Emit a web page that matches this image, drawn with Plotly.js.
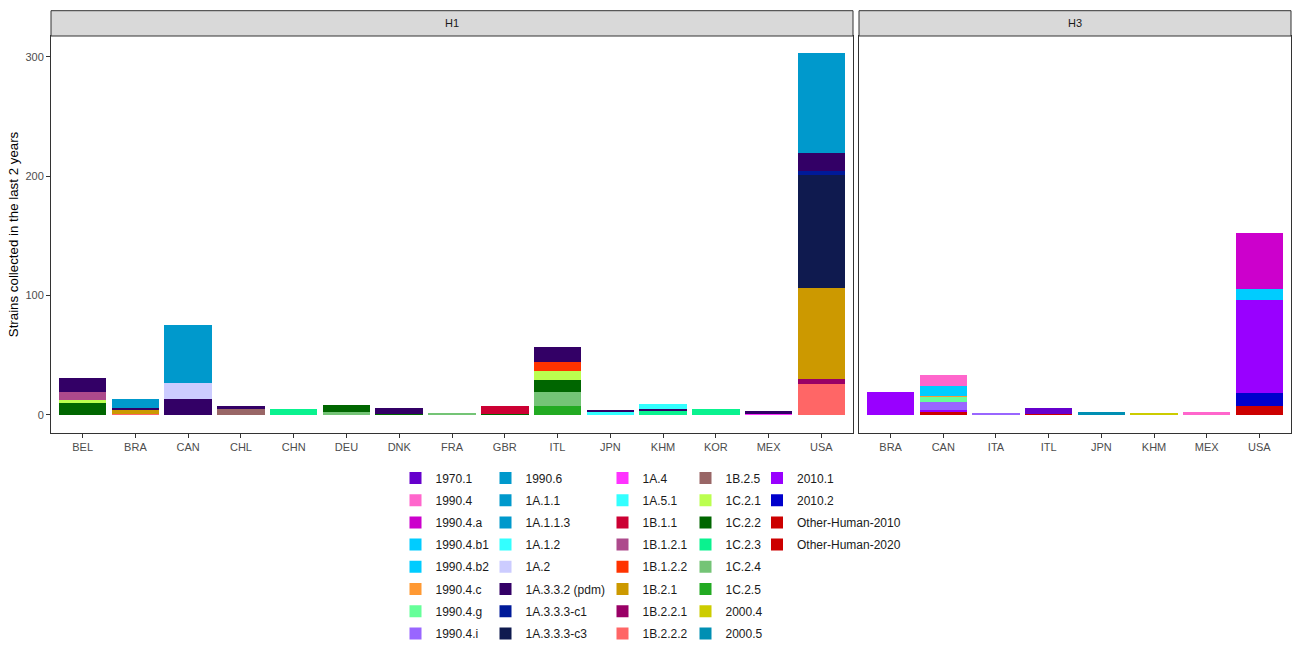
<!DOCTYPE html>
<html>
<head>
<meta charset="utf-8">
<script src="https://cdn.plot.ly/plotly-3.0.1.min.js"></script>
<style>html,body{margin:0;padding:0;background:#fff;}#chart{width:1292px;height:645px;}</style>
</head>
<body>
<div id="chart"></div>
<script>
// ---- categories ----
const h1Countries = ['BEL','BRA','CAN','CHL','CHN','DEU','DNK','FRA','GBR','ITL','JPN','KHM','KOR','MEX','USA'];
const h3Countries = ['BRA','CAN','ITA','ITL','JPN','KHM','MEX','USA'];
const panelTitles = ['H1', 'H3'];

const clades = ['1970.1','1990.4','1990.4.a','1990.4.b1','1990.4.b2','1990.4.c','1990.4.g','1990.4.i',
  '1990.6','1A.1.1','1A.1.1.3','1A.1.2','1A.2','1A.3.3.2 (pdm)','1A.3.3.3-c1','1A.3.3.3-c3',
  '1A.4','1A.5.1','1B.1.1','1B.1.2.1','1B.1.2.2','1B.2.1','1B.2.2.1','1B.2.2.2',
  '1B.2.5','1C.2.1','1C.2.2','1C.2.3','1C.2.4','1C.2.5','2000.4','2000.5',
  '2010.1','2010.2','Other-Human-2010','Other-Human-2020'];
const cladeColors = ['#6600CC','#FF66CC','#CC00CC','#00CCFF','#00CCFF','#FF9933','#66FF99','#9966FF',
  '#0099CC','#0099CC','#0099CC','#33FFFF','#CCCCFF','#330066','#001A99','#0F1A4F',
  '#FF33FF','#33FFFF','#CC0033','#AD4A8C','#FF3300','#CC9900','#990066','#FF6666',
  '#996666','#BBFF4F','#006600','#0AF28F','#74C476','#22AA22','#CCCC00','#008FB3',
  '#9900FF','#0000CC','#CC0000','#CC0000'];

// ---- H1 panel (long format) ----
const h1Country = ['BEL','BEL','BEL','BEL',
  'BRA','BRA','BRA','BRA',
  'CAN','CAN','CAN',
  'CHL','CHL',
  'CHN',
  'DEU','DEU',
  'DNK','DNK',
  'FRA',
  'GBR','GBR',
  'ITL','ITL','ITL','ITL','ITL','ITL',
  'JPN','JPN',
  'KHM','KHM','KHM',
  'KOR',
  'MEX','MEX',
  'USA','USA','USA','USA','USA','USA','USA'];
const h1Clade = ['1A.3.3.2 (pdm)','1B.1.2.1','1C.2.1','1C.2.2',
  '1A.1.1','1A.3.3.2 (pdm)','1B.2.1','1B.2.2.2',
  '1A.1.1','1A.2','1A.3.3.2 (pdm)',
  '1A.3.3.2 (pdm)','1B.2.5',
  '1C.2.3',
  '1C.2.2','1C.2.4',
  '1A.3.3.2 (pdm)','1C.2.2',
  '1C.2.4',
  '1B.1.1','1C.2.2',
  '1A.3.3.2 (pdm)','1B.1.2.2','1C.2.1','1C.2.2','1C.2.4','1C.2.5',
  '1A.3.3.2 (pdm)','1A.5.1',
  '1A.1.2','1A.3.3.2 (pdm)','1C.2.3',
  '1C.2.3',
  '1A.3.3.2 (pdm)','1A.4',
  '1A.1.1.3','1A.3.3.2 (pdm)','1A.3.3.3-c1','1A.3.3.3-c3','1B.2.1','1B.2.2.1','1B.2.2.2'];
const h1Count = [12,7,2,10,
  7,2,3,1,
  48,14,13,
  2,5,
  5,
  6,2,
  5,1,
  1,
  6,1,
  13,7,8,10,12,7,
  2,2,
  4,2,3,
  5,
  2,1,
  84,15,3,95,76,4,26];

// ---- H3 panel (long format) ----
const h3Country = ['BRA',
  'CAN','CAN','CAN','CAN','CAN','CAN','CAN',
  'ITA',
  'ITL','ITL',
  'JPN',
  'KHM',
  'MEX',
  'USA','USA','USA','USA','USA'];
const h3Clade = ['2010.1',
  '1990.4','1990.4.b2','1990.4.c','1990.4.g','1990.4.i','2010.1','Other-Human-2020',
  '1990.4.i',
  '1970.1','Other-Human-2010',
  '2000.5',
  '2000.4',
  '1990.4',
  '1990.4.a','1990.4.b1','2010.1','2010.2','Other-Human-2020'];
const h3Count = [19,
  9,8,1,4,7,2,2,
  1,
  5,1,
  2,
  1,
  2,
  47,9,78,11,7];

// ---- build traces ----
const legendIds = ['legend','legend2','legend3','legend4','legend5'];
const panels = [
  {country: h1Country, clade: h1Clade, count: h1Count, cats: h1Countries, xa: 'x', ya: 'y'},
  {country: h3Country, clade: h3Clade, count: h3Count, cats: h3Countries, xa: 'x2', ya: 'y2'}
];
const traces = [];
for (let i = clades.length - 1; i >= 0; i--) {
  const c = clades[i];
  const inH1 = h1Clade.includes(c);
  const inH3 = h3Clade.includes(c);
  panels.forEach((p, k) => {
    let xs = [], ys = [];
    p.clade.forEach((cl, j) => { if (cl === c) { xs.push(p.country[j]); ys.push(p.count[j]); } });
    const show = k === 0 ? (inH1 || !inH3) : (!inH1 && inH3);
    if (xs.length === 0) { xs = [p.cats[0]]; ys = [null]; } // no bar, keeps the legend key
    traces.push({
      type: 'bar', x: xs, y: ys, xaxis: p.xa, yaxis: p.ya,
      name: c, legendgroup: c, legend: legendIds[Math.floor(i / 8)],
      showlegend: show, legendrank: i + 1,
      marker: {color: cladeColors[i], line: {width: 0}},
      hovertemplate: '%{x}<br>' + c + ': %{y}<extra></extra>'
    });
  });
}

// ---- layout ----
const W = 1292, H = 645;
const M = {l: 51, r: 1, t: 36, b: 212, autoexpand: false};
const pw = W - M.l - M.r, ph = H - M.t - M.b;
const d1 = [0, 802 / pw], d2 = [808 / pw, 1];
const stripH = 25.3 / ph;
const axCommon = {
  showline: true, mirror: true, linecolor: '#333333', linewidth: 1,
  showgrid: false, zeroline: false, ticks: 'outside', ticklen: 4, tickcolor: '#333333', tickwidth: 1,
  tickfont: {size: 11, color: '#4D4D4D'}, automargin: false
};
const legendCols = [395.5, 485.5, 602.5, 685.5, 757];
const legTop = 463.5;
const layout = {
  width: W, height: H, margin: M,
  paper_bgcolor: '#FFFFFF', plot_bgcolor: '#FFFFFF',
  font: {family: 'Liberation Sans, Arial, sans-serif', color: '#1A1A1A'},
  barmode: 'stack', bargap: 0.1,
  xaxis: Object.assign({}, axCommon, {domain: d1, anchor: 'y', type: 'category',
    categoryorder: 'array', categoryarray: h1Countries, range: [-0.6, h1Countries.length - 0.4]}),
  xaxis2: Object.assign({}, axCommon, {domain: d2, anchor: 'y2', type: 'category',
    categoryorder: 'array', categoryarray: h3Countries, range: [-0.6, h3Countries.length - 0.4]}),
  yaxis: Object.assign({}, axCommon, {anchor: 'x', range: [-15.3, 317.4], tickvals: [0, 100, 200, 300],
    title: {text: 'Strains collected in the last 2 years', font: {size: 13.3, color: '#000000'}, standoff: 3}}),
  yaxis2: Object.assign({}, axCommon, {anchor: 'x2', matches: 'y', range: [-15.3, 317.4], showticklabels: false, ticks: ''}),
  shapes: [
    {type: 'rect', xref: 'paper', yref: 'paper', x0: d1[0], x1: d1[1], y0: 1, y1: 1 + stripH,
      fillcolor: '#D9D9D9', line: {color: '#333333', width: 1}},
    {type: 'rect', xref: 'paper', yref: 'paper', x0: d2[0], x1: d2[1], y0: 1, y1: 1 + stripH,
      fillcolor: '#D9D9D9', line: {color: '#333333', width: 1}}
  ],
  annotations: [
    {xref: 'paper', yref: 'paper', x: (d1[0] + d1[1]) / 2, y: 1 + stripH / 2, text: panelTitles[0],
      showarrow: false, xanchor: 'center', yanchor: 'middle', font: {size: 11, color: '#1A1A1A'}},
    {xref: 'paper', yref: 'paper', x: (d2[0] + d2[1]) / 2, y: 1 + stripH / 2, text: panelTitles[1],
      showarrow: false, xanchor: 'center', yanchor: 'middle', font: {size: 11, color: '#1A1A1A'}}
  ],
  showlegend: true
};
legendIds.forEach((id, k) => {
  layout[id] = {
    x: (legendCols[k] - M.l) / pw, y: (H - M.b - legTop) / ph,
    xanchor: 'left', yanchor: 'top', orientation: 'v',
    traceorder: 'grouped', tracegroupgap: 3.2,
    bgcolor: 'rgba(0,0,0,0)', borderwidth: 0,
    font: {size: 12, color: '#1A1A1A'}
  };
});

Plotly.newPlot('chart', traces, layout, {displayModeBar: false});
</script>
</body>
</html>
